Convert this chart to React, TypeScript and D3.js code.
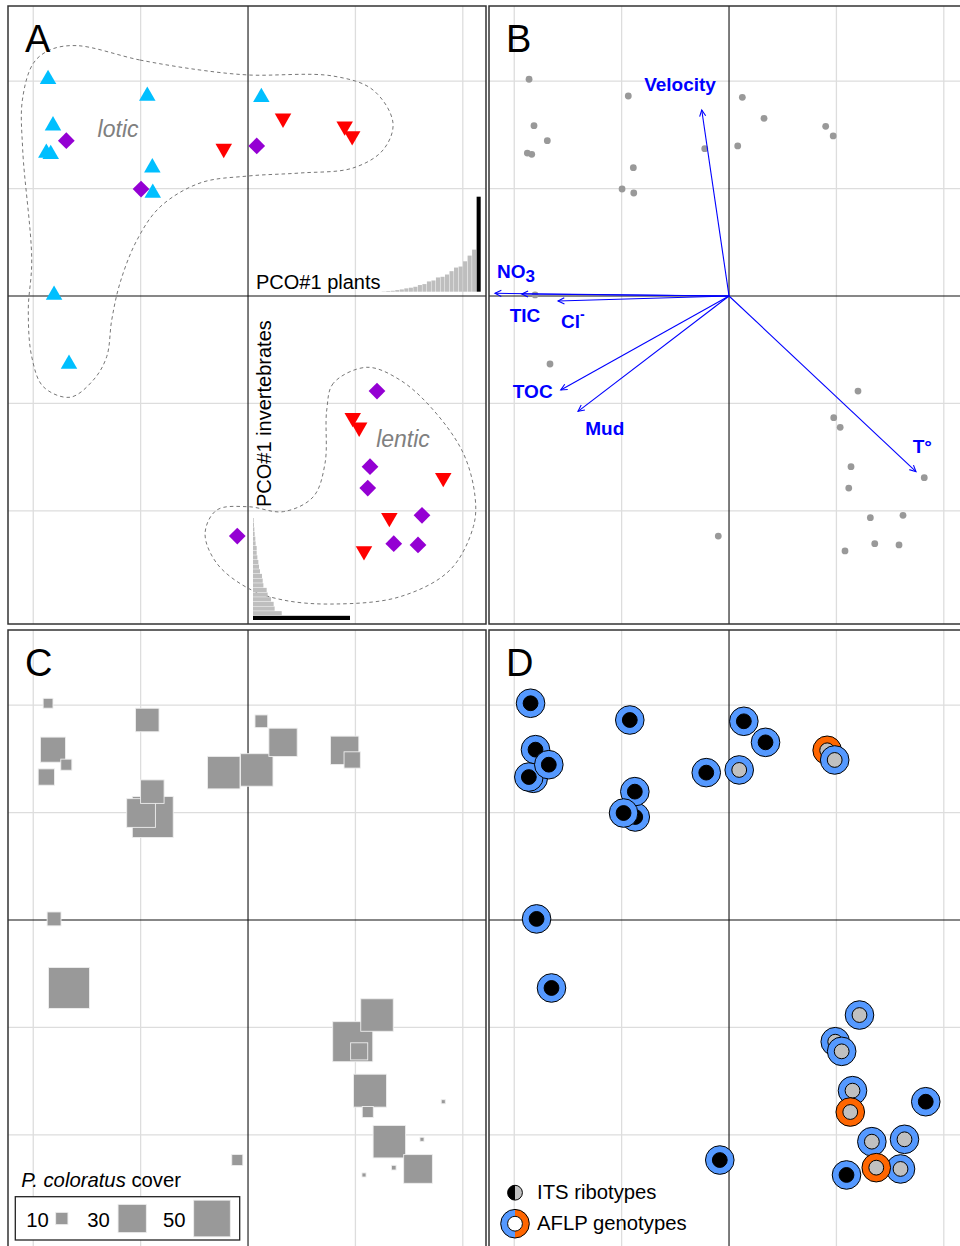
import * as d3 from "d3";

// ---- site scores (shared ordination, grid units) ----
const siteX = [-1.862, -0.938, -1.837, -1.816, -1.878, -1.692, -0.887, -0.891, -0.996, -0.226, 0.124, 0.326, 0.081, 0.9, 0.97, -1.806, -1.667, 1.201, 0.975, 1.035, 1.136, 1.115, 1.818, 1.316, 1.62, 1.583, 1.08, 1.357, -0.1];
const siteY = [2.018, 1.862, 1.319, 1.586, 1.331, 1.446, 0.959, 1.195, 0.996, 1.372, 1.85, 1.654, 1.397, 1.58, 1.49, 0.01, -0.633, -0.885, -1.133, -1.223, -1.589, -1.788, -1.692, -2.064, -2.042, -2.318, -2.374, -2.306, -2.235];
// panel A groups: up = blue triangle, dia = purple diamond, down = red triangle
const siteGroup = ["up", "up", "up", "up", "up", "dia", "up", "up", "dia", "down", "up", "down", "dia", "down", "down", "up", "up", "dia", "down", "down", "dia", "dia", "down", "down", "dia", "dia", "down", "dia", "dia"];
// panel C: P. coloratus cover (%)
const siteCover = [8, 24, 0, 26, 15, 9, 60, 24, 31, 40, 10.5, 30, 40, 30, 15, 12, 60, 40, 58, 16, 41, 9, 3.3, 40, 3.3, 31, 3.3, 3.8, 9];
// panel D: ITS ribotype (a = black, b = grey) and AFLP genotype (a = blue, b = orange)
const siteITS = ["a", "a", "a", "a", "a", "a", "a", "a", "a", "a", "a", "a", "b", "b", "b", "a", "a", "b", "b", "b", "b", "b", "a", "b", "b", "b", "a", "b", "a"];
const siteAFLP = ["a", "a", "a", "a", "a", "a", "a", "a", "a", "a", "a", "a", "a", "b", "a", "a", "a", "a", "a", "a", "a", "b", "a", "a", "a", "a", "a", "b", "a"];

// ---- hull outlines (grid units) ----
const loticHullX = [-1.595, -1.006, -0.447, 0, 0.791, 1.164, 1.35, 1.257, 0.978, 0.484, 0, -0.447, -0.819, -1.034, -1.192, -1.269, -1.316, -1.44, -1.657, -1.906, -2.014, -2.046, -2.014, -2.098, -2.101, -1.999, -1.844];
const loticHullY = [2.331, 2.197, 2.104, 2.058, 2.048, 1.918, 1.611, 1.359, 1.192, 1.145, 1.117, 1.052, 0.829, 0.521, 0.121, -0.223, -0.565, -0.782, -0.943, -0.845, -0.565, -0.13, 0.335, 1.359, 1.825, 2.167, 2.291];
const lenticHullX = [1.105, 0.794, 0.733, 0.717, 0.608, 0.329, 0.003, -0.291, -0.4, -0.291, 0.003, 0.329, 0.794, 1.415, 1.881, 2.098, 2.114, 2.005, 1.725, 1.415];
const lenticHullY = [-0.664, -0.813, -1.061, -1.558, -1.869, -2.008, -1.962, -1.993, -2.209, -2.489, -2.722, -2.831, -2.868, -2.8, -2.551, -2.148, -1.869, -1.465, -1.061, -0.782];

// ---- PCO eigenvalues (% of PCO#1) ----
const plantEig = [0.3, 0.7, 1, 1.7, 2.4, 3.5, 4.2, 5.2, 7, 8, 10.8, 11.8, 15, 15.7, 18.1, 21.6, 25.4, 26.5, 32, 38, 44.3, 100];
const invertEig = [100, 29.6, 22.3, 21.3, 18.6, 15.1, 14.1, 10.7, 10, 9.3, 7.2, 6.2, 5.5, 4.5, 3.8, 3.8, 2.7, 2.4, 1.7, 1.4, 1, 0.7];

// ---- environmental vectors (panel B) ----
const envNames = ["Velocity", "NO3", "TIC", "Cl", "TOC", "Mud", "T°"];
const envX = [-0.254, -2.179, -1.93, -1.592, -1.567, -1.406, 1.741];
const envY = [1.732, 0.025, 0.019, -0.047, -0.875, -1.074, -1.636];

const coverLegend = [10, 30, 50];

const FONT = "'Liberation Sans', Arial, Helvetica, sans-serif";
const PW = 478;
const PH = 618;
const x = d3.scaleLinear().domain([-2.235, 2.216]).range([0, PW]);
const y = d3.scaleLinear().domain([-3.054, 2.7]).range([PH, 0]);
const gridTicks = [-2, -1, 1, 2];
const side = d3.scaleLinear().domain([0, 10, 30, 50]).range([0, 12.3, 28.3, 36.7]);

const sites = siteX.map((sx, i) => ({
  x: sx,
  y: siteY[i],
  group: siteGroup[i],
  cover: siteCover[i],
  its: siteITS[i],
  aflp: siteAFLP[i],
}));

const BLUE = "#5599ff";
const ORANGE = "#ff6600";
const GREY_IN = "#c0c0c0";

function Panel({ ox, oy, id, letter, children }: any) {
  return (
    <g transform={`translate(${ox},${oy})`}>
      <clipPath id={id}>
        <rect width={PW} height={PH} />
      </clipPath>
      <g clipPath={`url(#${id})`}>
        {gridTicks.map((t) => (
          <line key={"v" + t} x1={x(t)} x2={x(t)} y1={0} y2={PH} stroke="#dddddd" strokeWidth={1.3} />
        ))}
        {gridTicks.map((t) => (
          <line key={"h" + t} x1={0} x2={PW} y1={y(t)} y2={y(t)} stroke="#dddddd" strokeWidth={1.3} />
        ))}
        <line x1={x(0)} x2={x(0)} y1={0} y2={PH} stroke="#111" strokeWidth={1.1} />
        <line x1={0} x2={PW} y1={y(0)} y2={y(0)} stroke="#111" strokeWidth={1.1} />
        {children}
        <text x={17} y={46} fontSize={38} fontFamily={FONT} fill="#000">
          {letter}
        </text>
      </g>
      <rect width={PW} height={PH} fill="none" stroke="#333" strokeWidth={1.5} />
    </g>
  );
}

function PanelA() {
  const hullPath = (hx: number[], hy: number[]) =>
    d3
      .line<number>()
      .x((i) => x(hx[i]))
      .y((i) => y(hy[i]))
      .curve(d3.curveCatmullRomClosed.alpha(0.5))(hx.map((_, i) => i)) ?? undefined;

  const tri = d3.symbol().type(d3.symbolTriangle).size(118)() ?? undefined;
  const dia = d3.symbol().type(d3.symbolSquare).size(140)() ?? undefined;

  const plantBand = d3.scaleBand<number>().domain(plantEig.map((_, i) => i)).range([373.7, 472.7]).paddingInner(0.1);
  const plantH = d3.scaleLinear().domain([0, 100]).range([0, 95]);
  const invBand = d3.scaleBand<number>().domain(invertEig.map((_, i) => i)).range([614, 512]).paddingInner(0.1);
  const invW = d3.scaleLinear().domain([0, 100]).range([0, 97]);
  const base = 285.7;
  const left = 245;

  return (
    <>
      <path d={hullPath(loticHullX, loticHullY)} fill="none" stroke="#777" strokeWidth={1} strokeDasharray="3.5,3" />
      <path d={hullPath(lenticHullX, lenticHullY)} fill="none" stroke="#777" strokeWidth={1} strokeDasharray="3.5,3" />
      <text x={x(-1.21)} y={y(1.483)} fontSize={23} fontStyle="italic" fill="#808080" fontFamily={FONT} textAnchor="middle">
        lotic
      </text>
      <text x={x(1.443)} y={y(-1.403)} fontSize={23} fontStyle="italic" fill="#808080" fontFamily={FONT} textAnchor="middle">
        lentic
      </text>

      {plantEig.map((v, i) => (
        <rect
          key={"p" + i}
          x={plantBand(i)}
          y={base - plantH(v)}
          width={plantBand.bandwidth()}
          height={plantH(v)}
          fill={i === plantEig.length - 1 ? "#000" : "#bebebe"}
        />
      ))}
      <text x={248} y={283} fontSize={20} fontFamily={FONT} fill="#000">
        PCO#1 plants
      </text>

      {invertEig.map((v, i) => (
        <rect
          key={"i" + i}
          x={left}
          y={invBand(i)}
          width={invW(v)}
          height={invBand.bandwidth()}
          fill={i === 0 ? "#000" : "#bebebe"}
        />
      ))}
      <text transform={`translate(262.7,501) rotate(-90)`} fontSize={20} fontFamily={FONT} fill="#000">
        PCO#1 invertebrates
      </text>

      {sites.map((s, i) => {
        const px = x(s.x);
        const py = y(s.y);
        if (s.group === "up")
          return <path key={i} d={tri} transform={`translate(${px},${py})`} fill="#00bfff" />;
        if (s.group === "down")
          return <path key={i} d={tri} transform={`translate(${px},${py}) rotate(180)`} fill="#ff0000" />;
        return <path key={i} d={dia} transform={`translate(${px},${py}) rotate(45)`} fill="#9400d3" />;
      })}
    </>
  );
}

const labelLayout: Record<string, { dx: number; dy: number; anchor: string }> = {
  Velocity: { dx: -21.7, dy: -19, anchor: "middle" },
  NO3: { dx: 2, dy: -15, anchor: "start" },
  TIC: { dx: 3.3, dy: 27.7, anchor: "middle" },
  Cl: { dx: 3, dy: 26.7, anchor: "start" },
  TOC: { dx: -28, dy: 8.3, anchor: "middle" },
  Mud: { dx: 26.7, dy: 23.7, anchor: "middle" },
  "T°": { dx: 6.3, dy: -19, anchor: "middle" },
};

function EnvLabel({ name }: { name: string }) {
  if (name === "NO3")
    return (
      <>
        NO<tspan dy={4} fontSize={17}>3</tspan>
      </>
    );
  if (name === "Cl")
    return (
      <>
        Cl<tspan dy={-9} fontSize={14}>-</tspan>
      </>
    );
  return <>{name}</>;
}

function PanelB() {
  const x0 = x(0);
  const y0 = y(0);
  return (
    <>
      {sites.map((s, i) => (
        <circle key={i} cx={x(s.x)} cy={y(s.y)} r={3.4} fill="#999999" />
      ))}
      {envNames.map((n, i) => {
        const tx = x(envX[i]);
        const ty = y(envY[i]);
        const ang = Math.atan2(ty - y0, tx - x0);
        const L = 7;
        const a1 = ang + Math.PI - 0.45;
        const a2 = ang + Math.PI + 0.45;
        const lay = labelLayout[n];
        return (
          <g key={n}>
            <line x1={x0} y1={y0} x2={tx} y2={ty} stroke="#0000ff" strokeWidth={1.1} />
            <polyline
              points={`${tx + L * Math.cos(a1)},${ty + L * Math.sin(a1)} ${tx},${ty} ${tx + L * Math.cos(a2)},${ty + L * Math.sin(a2)}`}
              fill="none"
              stroke="#0000ff"
              strokeWidth={1.1}
            />
            <text
              x={tx + lay.dx}
              y={ty + lay.dy}
              textAnchor={lay.anchor as any}
              fontSize={19}
              fontWeight="bold"
              fill="#0000ff"
              fontFamily={FONT}
            >
              <EnvLabel name={n} />
            </text>
          </g>
        );
      })}
    </>
  );
}

function PanelC() {
  const sorted = [...sites].filter((s) => s.cover > 0).sort((a, b) => b.cover - a.cover);
  const legendLabelX = [18.3, 79.3, 155];
  const legendBoxX = [53.8, 124.2, 204];
  return (
    <>
      {sorted.map((s, i) => {
        const w = side(s.cover);
        return (
          <rect
            key={i}
            x={x(s.x) - w / 2}
            y={y(s.y) - w / 2}
            width={w}
            height={w}
            fill="#999999"
            stroke="#eeeeee"
            strokeWidth={0.9}
          />
        );
      })}
      <text x={13.3} y={556.7} fontSize={20.3} fontFamily={FONT} fill="#000">
        <tspan fontStyle="italic">P. coloratus</tspan> cover
      </text>
      <rect x={7.3} y={566.7} width={224.4} height={43.3} fill="#fff" stroke="#222" strokeWidth={1.3} />
      {coverLegend.map((v, i) => {
        const w = side(v);
        return (
          <g key={v}>
            <text x={legendLabelX[i]} y={596.7} fontSize={20.3} fontFamily={FONT} fill="#000">
              {v}
            </text>
            <rect x={legendBoxX[i] - w / 2} y={588.5 - w / 2} width={w} height={w} fill="#999999" stroke="#eeeeee" strokeWidth={0.9} />
          </g>
        );
      })}
    </>
  );
}

function PanelD() {
  const half = (r0: number, r1: number, a0: number, a1: number) =>
    d3.arc()({ innerRadius: r0, outerRadius: r1, startAngle: a0, endAngle: a1 }) ?? undefined;
  return (
    <>
      {sites.map((s, i) => (
        <g key={i} transform={`translate(${x(s.x) + 1.5},${y(s.y)})`}>
          <circle r={14.3} fill={s.aflp === "a" ? BLUE : ORANGE} stroke="#000" strokeWidth={1} />
          <circle r={7.4} fill={s.its === "a" ? "#000" : GREY_IN} stroke="#000" strokeWidth={1} />
        </g>
      ))}
      <g transform="translate(26,562.7)">
        <path d={half(0, 7.4, Math.PI, 2 * Math.PI)} fill="#000" />
        <path d={half(0, 7.4, 0, Math.PI)} fill={GREY_IN} />
        <circle r={7.4} fill="none" stroke="#000" strokeWidth={1} />
      </g>
      <text x={48} y={569} fontSize={20.3} fontFamily={FONT} fill="#000">
        ITS ribotypes
      </text>
      <g transform="translate(26,593.7)">
        <path d={half(7.4, 14.3, Math.PI, 2 * Math.PI)} fill={BLUE} />
        <path d={half(7.4, 14.3, 0, Math.PI)} fill={ORANGE} />
        <circle r={14.3} fill="none" stroke="#000" strokeWidth={1} />
        <circle r={7.4} fill="#fff" stroke="#000" strokeWidth={1} />
      </g>
      <text x={48} y={600} fontSize={20.3} fontFamily={FONT} fill="#000">
        AFLP genotypes
      </text>
    </>
  );
}

export default function App() {
  return (
    <svg
      width={960}
      height={1246}
      viewBox="0 0 960 1246"
      style={{ position: "absolute", left: 0, top: 0, background: "#fff" }}
    >
      <rect width={960} height={1246} fill="#fff" />
      <Panel ox={8} oy={6} id="clipA" letter="A">
        <PanelA />
      </Panel>
      <Panel ox={489} oy={6} id="clipB" letter="B">
        <PanelB />
      </Panel>
      <Panel ox={8} oy={630} id="clipC" letter="C">
        <PanelC />
      </Panel>
      <Panel ox={489} oy={630} id="clipD" letter="D">
        <PanelD />
      </Panel>
    </svg>
  );
}
